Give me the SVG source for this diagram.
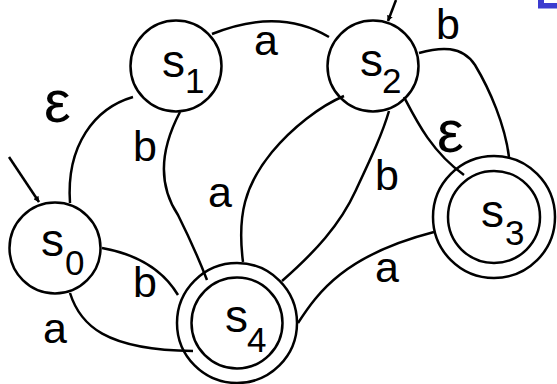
<svg xmlns="http://www.w3.org/2000/svg" width="557" height="384" viewBox="0 0 557 384">
<style>
.st{fill:none;stroke:#000;stroke-width:2.5}
.e{fill:none;stroke:#000;stroke-width:2.5}
.n{font-family:"Liberation Sans",Arial,sans-serif;fill:#000}
.lab{font-family:"Liberation Sans",Arial,sans-serif;font-size:43px;fill:#000}
.eps{font-family:"Liberation Sans",Arial,sans-serif;font-size:60px;fill:#000}
</style>
<defs>
<marker id="ah" viewBox="0 0 10 10" refX="9" refY="5" markerWidth="6" markerHeight="6" orient="auto" markerUnits="userSpaceOnUse">
<path d="M0,0 L10,5 L0,10 z" fill="#000"/>
</marker>
</defs>
<rect width="557" height="384" fill="#fff"/>
<polygon points="538,0 544,0 544,3 557,3 557,8.5 538,8.5" fill="#3b3bcf"/>
<g id="connectors">
<path class="e" d="M212,34 Q279,7 329,37"/>
<path class="e" d="M133,97 C95,108 66,145 70,203"/>
<path class="e" d="M180,112 C160,150 158,185 178,215 C188,235 200,262 207,280"/>
<path class="e" d="M243,262 C237,215 245,185 272,152 C292,128 320,106 344,96"/>
<path class="e" d="M282,281 C315,252 340,225 356,190 C370,160 382,135 389,111"/>
<path class="e" d="M419,53 C440,47 462,45 475,65 C490,90 505,125 509,157"/>
<path class="e" d="M404,97 C417,122 432,152 464,175"/>
<path class="e" d="M102,248 C130,253 160,265 178,295"/>
<path class="e" d="M70,293 C80,325 105,350 193,351"/>
<path class="e" d="M298,323 C318,292 345,255 434,232"/>
<line class="e" x1="9" y1="157" x2="39" y2="202" marker-end="url(#ah)" stroke-width="2"/>
<line class="e" x1="396" y1="0" x2="388" y2="21" marker-end="url(#ah)" stroke-width="2"/>
<text class="lab" x="254" y="55">a</text>
<text class="eps" x="44" y="122">ε</text>
<text class="lab" x="133" y="161">b</text>
<text class="lab" x="208" y="207">a</text>
<text class="lab" x="375" y="190">b</text>
<text class="eps" x="437" y="152">ε</text>
<text class="lab" x="436" y="39">b</text>
<text class="lab" x="133" y="297">b</text>
<text class="lab" x="43" y="343">a</text>
<text class="lab" x="375" y="282">a</text>
</g>
<g id="s1">
<circle class="st" cx="176" cy="66" r="45.5" fill="#fff"/>
<text class="n" x="162" y="77" font-size="46">s</text>
<text class="n" x="185" y="93" font-size="35">1</text>
</g>
<g id="s2">
<circle class="st" cx="373" cy="66" r="45.5" fill="#fff"/>
<text class="n" x="360" y="76" font-size="46">s</text>
<text class="n" x="382" y="93" font-size="35">2</text>
</g>
<g id="s0">
<circle class="st" cx="55" cy="248" r="45.5" fill="#fff"/>
<text class="n" x="41" y="256" font-size="46">s</text>
<text class="n" x="65" y="275" font-size="35">0</text>
</g>
<g id="s4">
<circle class="st" cx="237" cy="323" r="60" fill="#fff"/>
<circle class="st" cx="237" cy="323" r="45.5"/>
<text class="n" x="225" y="332" font-size="46">s</text>
<text class="n" x="247" y="352" font-size="35">4</text>
</g>
<g id="s3">
<circle class="st" cx="494" cy="217" r="61" fill="#fff"/>
<circle class="st" cx="494" cy="217" r="46"/>
<text class="n" x="481" y="227" font-size="46">s</text>
<text class="n" x="505" y="245" font-size="35">3</text>
</g>
</svg>
